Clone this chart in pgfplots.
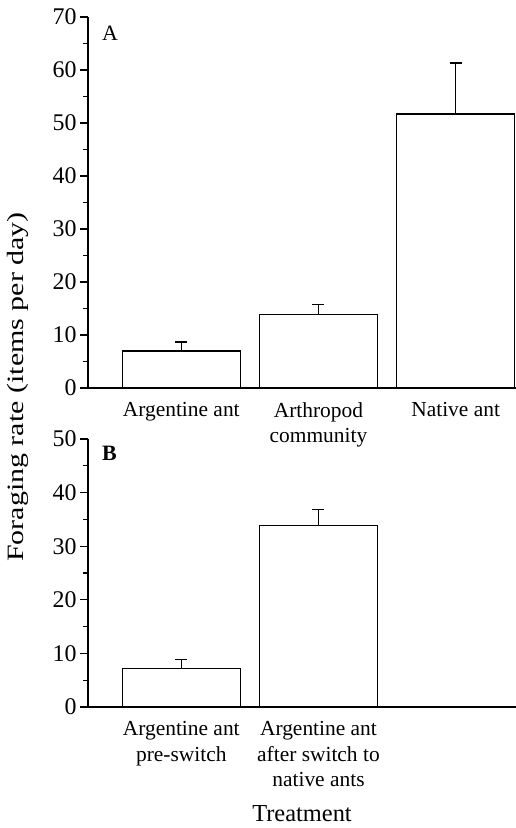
\documentclass[border=0pt]{standalone}
\usepackage{fontspec}
\setmainfont{Liberation Serif}
\usepackage{graphicx}
\usepackage{pgfplots}
\pgfplotsset{compat=1.18}

\pgfplotsset{
  antpanel/.style={
    scale only axis,
    width=428bp,
    xmin=0.32, xmax=3.44,
    ymin=0,
    axis x line=bottom, axis y line=left,
    axis line style={-, line width=1.3bp},
    xtick={1,2,3},
    x tick style={draw=none},
    xticklabel style={align=center, font=\fontsize{21.5}{25.5}\selectfont, yshift=-3bp},
    ytick distance=10, minor y tick num=1,
    tick align=outside,
    major tick length=8bp, minor tick length=5bp,
    y tick style={line width=1.1bp, black},
    yticklabel style={font=\fontsize{24}{26}\selectfont},
    /pgf/number format/assume math mode=true,
    ybar, bar width=0.86, bar shift=0,
  },
  antbar/.style={
    draw=black, fill=white, line width=1.3bp,
    error bars/.cd,
      y dir=plus, y explicit,
      error bar style={line width=1.3bp},
      error mark options={rotate=90, mark size=6bp, line width=1.3bp},
  },
}

\begin{document}
\begin{tikzpicture}[x=1bp, y=1bp]
\path[use as bounding box] (0,0) rectangle (516,828);

% Panel A
\begin{axis}[antpanel,
  at={(88bp,440bp)}, anchor=south west,
  height=371bp, ymax=70,
  xticklabels={Argentine ant, Arthropod\\community, Native ant},
]
\addplot[antbar] coordinates {
  (1,7.0) +- (0,1.7)
  (2,13.8) +- (0,1.9)
  (3,51.7) +- (0,9.6)
};
\node[anchor=north west, font=\fontsize{22}{24}\selectfont] at (rel axis cs:0.025,0.985) {A};
\end{axis}

% Panel B
\begin{axis}[antpanel,
  at={(88bp,121bp)}, anchor=south west,
  height=268bp, ymax=50,
  xtick={1,2},
  xticklabels={Argentine ant\\pre-switch, Argentine ant\\after switch to\\native ants},
]
\addplot[antbar] coordinates {
  (1,7.2) +- (0,1.7)
  (2,33.9) +- (0,2.9)
};
\node[anchor=north west, font=\fontsize{22}{24}\selectfont\bfseries] at (rel axis cs:0.025,0.985) {B};
\end{axis}

\node[rotate=90, font=\fontsize{23.5}{26}\selectfont] at (18,441) {\scalebox{1.28}[1]{Foraging rate (items per day)}};
\node[font=\fontsize{24.5}{26}\selectfont] at (302,14) {Treatment};
\end{tikzpicture}
\end{document}
